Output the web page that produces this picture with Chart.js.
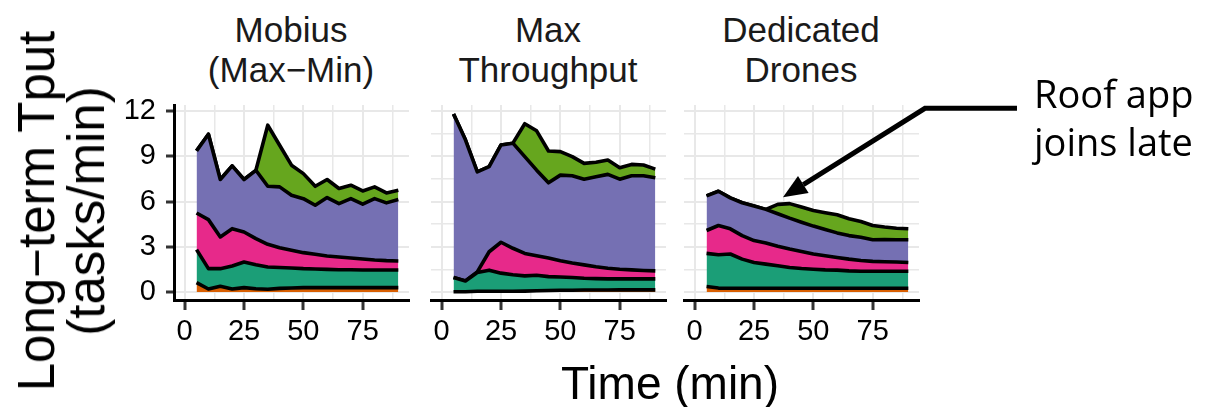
<!DOCTYPE html>
<html>
<head>
<meta charset="utf-8">
<script src="https://cdn.jsdelivr.net/npm/chart.js@4/dist/chart.umd.min.js"></script>
<style>
  body { margin: 0; background: #fff; }
  #wrap { position: relative; width: 1212px; height: 407px; overflow: hidden; background: #fff; }
  canvas { position: absolute; }
  .txt { position: absolute; white-space: nowrap; font-family: "Liberation Sans", Arial, sans-serif; z-index: 2; }
  .title { font-size: 35px; line-height: 40px; color: #1a1a1a; text-align: center; transform: translateX(-50%); top: 10px; }
  #ylab { font-size: 51px; line-height: 50px; color: #000; text-align: center; left: 62px; top: 211px; transform: translate(-50%, -50%) rotate(-90deg); }
  #xlab { font-size: 46px; line-height: 46px; color: #000; left: 670px; top: 360px; transform: translateX(-50%); }
  #note { font-family: "Open Sans", sans-serif; font-size: 38px; line-height: 48px; color: #000; left: 1034px; top: 69px; }
</style>
</head>
<body>
<div id="wrap">
  <canvas id="p1" width="325" height="270" style="left:90px;top:95px"></canvas>
  <canvas id="p2" width="250" height="270" style="left:421px;top:95px"></canvas>
  <canvas id="p3" width="538" height="270" style="left:674px;top:95px"></canvas>
  <div class="txt title" style="left:291px">Mobius<br>(Max−Min)</div>
  <div class="txt title" style="left:548px">Max<br>Throughput</div>
  <div class="txt title" style="left:801px">Dedicated<br>Drones</div>
  <div class="txt" id="ylab">Long−term Tput<br>(tasks/min)</div>
  <div class="txt" id="xlab">Time (min)</div>
  <div class="txt" id="note">Roof app<br>joins late</div>
</div>
<script>
// time in minutes
const minutes = [5, 10, 15, 20, 25, 30, 35, 40, 45, 50, 55, 60, 65, 70, 75, 80, 85, 90];

// Mobius (Max-Min), per-app throughput
const mobiusOrange = [0.62, 0.20, 0.38, 0.20, 0.29, 0.22, 0.18, 0.24, 0.27, 0.29, 0.29, 0.29, 0.29, 0.29, 0.29, 0.29, 0.29, 0.29];
const mobiusTeal = [2.19, 1.35, 1.17, 1.53, 1.70, 1.59, 1.48, 1.38, 1.32, 1.26, 1.24, 1.21, 1.19, 1.19, 1.17, 1.17, 1.17, 1.17];
const mobiusPink = [2.43, 3.25, 2.10, 2.47, 1.99, 1.73, 1.50, 1.32, 1.18, 1.06, 0.97, 0.89, 0.84, 0.78, 0.73, 0.66, 0.62, 0.60];
const mobiusPurple = [4.12, 5.66, 3.81, 4.16, 3.48, 4.53, 3.85, 4.03, 3.65, 3.58, 3.25, 3.87, 3.54, 3.93, 3.63, 4.07, 3.83, 4.07];
const mobiusGreen = [0, 0, 0, 0, 0, 0, 4.05, 2.76, 1.99, 1.66, 1.26, 1.20, 1.00, 0.89, 0.88, 0.78, 0.66, 0.62];

// Max Throughput
const maxOrange = [0.02, 0.02, 0.05, 0.05, 0.05, 0.05, 0.06, 0.08, 0.10, 0.12, 0.12, 0.13, 0.13, 0.13, 0.14, 0.14, 0.14, 0.14];
const maxTeal = [0.94, 0.71, 1.24, 1.40, 1.20, 1.09, 1.01, 1.03, 0.92, 0.88, 0.84, 0.78, 0.76, 0.74, 0.73, 0.73, 0.73, 0.73];
const maxPink = [0, 0, 0.05, 1.22, 2.05, 1.76, 1.49, 1.30, 1.23, 1.07, 0.96, 0.89, 0.78, 0.71, 0.64, 0.60, 0.56, 0.53];
const maxPurple = [10.84, 9.36, 6.63, 5.64, 6.45, 6.97, 6.42, 5.67, 4.99, 5.68, 5.79, 5.68, 5.97, 6.22, 5.97, 6.24, 6.28, 6.17];
const maxGreen = [0, 0, 0, 0, 0, 0, 2.18, 2.61, 2.11, 1.56, 1.27, 1.05, 0.96, 0.95, 0.76, 0.75, 0.71, 0.58];

// Dedicated Drones
const dedOrange = [0.36, 0.26, 0.25, 0.25, 0.25, 0.25, 0.25, 0.25, 0.25, 0.25, 0.25, 0.25, 0.25, 0.25, 0.25, 0.25, 0.25, 0.25];
const dedTeal = [2.20, 2.21, 2.27, 1.93, 1.71, 1.60, 1.49, 1.38, 1.31, 1.26, 1.22, 1.20, 1.15, 1.13, 1.13, 1.13, 1.13, 1.13];
const dedPink = [1.52, 1.94, 1.67, 1.56, 1.45, 1.40, 1.29, 1.22, 1.13, 1.01, 0.94, 0.84, 0.78, 0.71, 0.65, 0.63, 0.61, 0.58];
const dedPurple = [2.29, 2.27, 2.05, 2.18, 2.29, 2.23, 2.16, 2.05, 1.94, 1.85, 1.73, 1.63, 1.56, 1.54, 1.44, 1.47, 1.48, 1.51];
const dedGreen = [0, 0, 0, 0, 0, 0, 0.62, 0.96, 1.00, 1.04, 1.12, 1.20, 1.12, 1.05, 0.94, 0.83, 0.76, 0.72];

const layerColors = ["#D95F02", "#1B9E77", "#E7298A", "#7570B3", "#66A61E"];
const yTicks = [0, 1.5, 3, 4.5, 6, 7.5, 9, 10.5, 12];
const xTicks = [0, 12.5, 25, 37.5, 50, 62.5, 75, 87.5];

// where the "Roof app joins late" arrow points (minutes, tasks/min)
const arrowTip = { x: 37.2, y: 6.28 };

Chart.defaults.font.family = "'Liberation Sans', Arial, sans-serif";
Chart.defaults.color = "#000";

const arrowPlugin = {
  id: "roofArrow",
  afterDraw(chart) {
    const ctx = chart.ctx;
    const tx = chart.scales.x.getPixelForValue(arrowTip.x);
    const ty = chart.scales.y.getPixelForValue(arrowTip.y);
    const ex = tx + 142, ey = ty - 89;
    const ang = Math.atan2(ty - ey, tx - ex);
    const headLen = 24, headW = 10;
    const bx = tx - headLen * Math.cos(ang), by = ty - headLen * Math.sin(ang);
    ctx.save();
    ctx.strokeStyle = "#000";
    ctx.lineWidth = 5;
    ctx.beginPath();
    ctx.moveTo(ex + 92, ey);
    ctx.lineTo(ex, ey);
    ctx.lineTo(bx, by);
    ctx.stroke();
    ctx.fillStyle = "#000";
    ctx.beginPath();
    ctx.moveTo(tx, ty);
    ctx.lineTo(bx + headW * Math.sin(ang), by - headW * Math.cos(ang));
    ctx.lineTo(bx - headW * Math.sin(ang), by + headW * Math.cos(ang));
    ctx.closePath();
    ctx.fill();
    ctx.restore();
  }
};

function buildPanel(id, layers, opts) {
  const datasets = layers.map((vals, i) => ({
    data: minutes.map((m, k) => ({ x: m, y: vals[k] })),
    backgroundColor: layerColors[i],
    borderColor: "#000",
    borderWidth: 3.6,
    borderJoinStyle: "round",
    pointRadius: 0,
    tension: 0,
    fill: i === 0 ? "origin" : "-1"
  }));

  return new Chart(document.getElementById(id), {
    type: "line",
    data: { datasets },
    options: {
      responsive: false,
      animation: false,
      devicePixelRatio: 1,
      layout: { padding: opts.padding },
      plugins: { legend: { display: false }, tooltip: { enabled: false } },
      scales: {
        x: {
          type: "linear",
          min: -4.5,
          max: 94.5,
          afterBuildTicks: (axis) => { axis.ticks = xTicks.map((v) => ({ value: v })); },
          afterFit: (axis) => {
            axis.height = 65;
            axis.paddingLeft = 0;
            axis.paddingRight = 0;
          },
          ticks: {
            autoSkip: false,
            maxRotation: 0,
            padding: 5,
            font: { size: 29 },
            color: "#000",
            callback: (v) => (v % 25 === 0 ? String(v) : "")
          },
          grid: {
            color: "#e8e8e8",
            lineWidth: (c) => (c.tick && c.tick.value % 25 === 0 ? 2 : 1.5),
            tickLength: 10,
            tickWidth: 3,
            tickColor: (c) => (c.tick && c.tick.value % 25 === 0 ? "#333" : "rgba(0,0,0,0)")
          },
          border: { display: true, color: "#000", width: 3 }
        },
        y: {
          stacked: true,
          min: -0.53,
          max: 12.4,
          afterBuildTicks: (axis) => { axis.ticks = yTicks.map((v) => ({ value: v })); },
          afterFit: (axis) => {
            axis.width = opts.yWidth;
            axis.paddingTop = 0;
            axis.paddingBottom = 0;
          },
          ticks: {
            display: opts.showY,
            padding: 10,
            font: { size: 29 },
            color: "#000",
            callback: (v) => (v % 3 === 0 ? String(v) : "")
          },
          grid: {
            color: "#e8e8e8",
            lineWidth: (c) => (c.tick && c.tick.value % 3 === 0 ? 2 : 1.5),
            drawTicks: opts.showY,
            tickLength: 8,
            tickWidth: 3,
            tickColor: (c) => (c.tick && c.tick.value % 3 === 0 ? "#333" : "rgba(0,0,0,0)")
          },
          border: { display: opts.showY, color: "#000", width: 3 }
        }
      }
    },
    plugins: opts.plugins || []
  });
}

buildPanel("p1", [mobiusOrange, mobiusTeal, mobiusPink, mobiusPurple, mobiusGreen],
  { padding: { top: 10, right: 6, left: 0, bottom: 0 }, yWidth: 84, showY: true });
buildPanel("p2", [maxOrange, maxTeal, maxPink, maxPurple, maxGreen],
  { padding: { top: 10, right: 5, left: 10, bottom: 0 }, yWidth: 0, showY: false });
buildPanel("p3", [dedOrange, dedTeal, dedPink, dedPurple, dedGreen],
  { padding: { top: 10, right: 293, left: 10, bottom: 0 }, yWidth: 0, showY: false, plugins: [arrowPlugin] });
</script>
</body>
</html>
